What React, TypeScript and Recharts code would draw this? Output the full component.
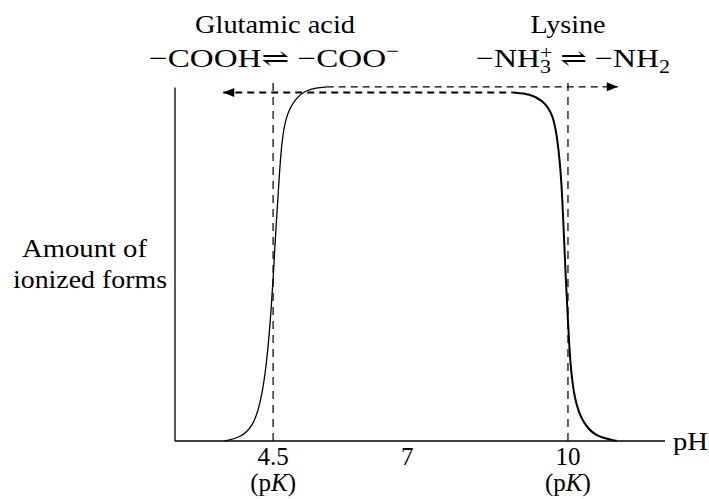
import React from 'react';
import { LineChart, Line, XAxis, YAxis, ReferenceLine, ReferenceDot } from 'recharts';

// pH axis
const xDomain = [2.67, 11.81];
const xTicks = [4.5, 7, 10];
const xTickNotes = ['(pK)', '', '(pK)'];
const pKValues = [4.5, 10];

// glutamic acid: -COOH -> -COO- (solid rise, then dashed plateau)
const gluPH = [3.6, 3.88, 4.13, 4.28, 4.38, 4.45, 4.5, 4.55, 4.61, 4.66, 4.75, 4.94, 5.12, 5.3, 5.5];
const gluAmount = [0, 0.9, 4.1, 11.7, 22.3, 34.7, 46.1, 60.5, 74.8, 86.2, 94.0, 98.7, 100.6, 101.3, 101.6];
const gluPlateauPH = [5.5, 10.93];
const gluPlateauAmount = [101.6, 101.6];

// lysine: -NH3+ -> -NH2 (dashed plateau, then solid fall)
const lysPlateauPH = [3.57, 8.97];
const lysPlateauAmount = [100, 100];
const lysPH = [8.97, 9.29, 9.53, 9.72, 9.81, 9.88, 9.92, 9.96, 10.0, 10.04, 10.12, 10.28, 10.53, 10.84, 10.91];
const lysAmount = [100, 99.6, 97.7, 93.9, 86.2, 74.8, 60.5, 46.1, 34.7, 22.3, 11.7, 5.0, 1.2, 0.3, 0];

const yAxisTop = 101.4;
const pKLineTop = 103.2;

const toRows = (xs: number[], ys: number[]) => xs.map((ph, i) => ({ ph, amount: ys[i] }));

const gluData = toRows(gluPH, gluAmount);
const gluPlateau = toRows(gluPlateauPH, gluPlateauAmount);
const lysPlateau = toRows(lysPlateauPH, lysPlateauAmount);
const lysData = toRows(lysPH, lysAmount);

const FONT = '"Liberation Serif", "DejaVu Serif", serif';

const PhTick = (props: any) => {
  const { x, y, payload } = props;
  const note = xTickNotes[xTicks.indexOf(payload.value)];
  return (
    <g style={{ fontFamily: FONT }} fill="#000">
      <text x={x} y={y + 24} textAnchor="middle" fontSize={25}>
        {payload.value}
      </text>
      {note ? (
        <text x={x} y={y + 50} textAnchor="middle" fontSize={25}>
          (p<tspan fontStyle="italic">K</tspan>)
        </text>
      ) : null}
    </g>
  );
};

const arrowHead = (dir: 'left' | 'right') => (props: any) => {
  const { cx, cy } = props;
  const s = dir === 'left' ? 1 : -1;
  return (
    <polygon
      points={`${cx},${cy} ${cx + s * 11},${cy - 4.5} ${cx + s * 11},${cy + 4.5}`}
      fill="#000"
    />
  );
};

const App = () => {
  return (
    <div style={{ position: 'absolute', left: 0, top: 0, width: 709, height: 499, background: '#fff' }}>
      <LineChart
        width={709}
        height={499}
        margin={{ top: 75, right: 44, left: 175, bottom: 0 }}
      >
        <XAxis
          type="number"
          dataKey="ph"
          domain={xDomain}
          ticks={xTicks}
          allowDataOverflow
          tickLine={false}
          tickSize={0}
          tickMargin={0}
          height={58}
          axisLine={{ stroke: '#000', strokeWidth: 1.3 }}
          tick={<PhTick />}
        />
        <YAxis type="number" dataKey="amount" domain={[0, 105]} hide />
        <ReferenceLine
          segment={[{ x: xDomain[0], y: 0 }, { x: xDomain[0], y: yAxisTop }]}
          stroke="#000"
          strokeWidth={1.3}
        />
        {pKValues.map((pk) => (
          <ReferenceLine
            key={pk}
            segment={[{ x: pk, y: 0 }, { x: pk, y: pKLineTop }]}
            stroke="#111"
            strokeWidth={1.3}
            strokeDasharray="8 6"
          />
        ))}
        <Line data={gluData} dataKey="amount" type="basis" stroke="#000" strokeWidth={1.3} dot={false} isAnimationActive={false} />
        <Line data={gluPlateau} dataKey="amount" type="linear" stroke="#000" strokeWidth={1.3} strokeDasharray="7 5" dot={false} isAnimationActive={false} />
        <Line data={lysPlateau} dataKey="amount" type="linear" stroke="#000" strokeWidth={2} strokeDasharray="7 5" dot={false} isAnimationActive={false} />
        <Line data={lysData} dataKey="amount" type="basis" stroke="#000" strokeWidth={2} dot={false} isAnimationActive={false} />
        <ReferenceDot x={lysPlateauPH[0]} y={lysPlateauAmount[0]} r={0} shape={arrowHead('left')} />
        <ReferenceDot x={gluPlateauPH[1]} y={gluPlateauAmount[1]} r={0} shape={arrowHead('right')} />
      </LineChart>
      <svg
        width={709}
        height={499}
        style={{ position: 'absolute', left: 0, top: 0, pointerEvents: 'none', fontFamily: FONT, fontSize: 26 }}
      >
        <text x={275} y={33} textAnchor="middle" textLength={160} lengthAdjust="spacingAndGlyphs">Glutamic acid</text>
        <text x={149} y={67} textLength={250} lengthAdjust="spacingAndGlyphs">
          −COOH⇌ −COO<tspan dy={-10} fontSize={18}>−</tspan>
        </text>
        <text x={568} y={33} textAnchor="middle" textLength={75} lengthAdjust="spacingAndGlyphs">Lysine</text>
        <text x={476} y={67} textLength={194} lengthAdjust="spacingAndGlyphs">
          −NH<tspan dy={6} fontSize={18}>3</tspan>
          <tspan dx={-9} dy={-14} fontSize={18}>+</tspan>
          <tspan dy={8}> ⇌ −NH</tspan>
          <tspan dy={6} fontSize={18}>2</tspan>
        </text>
        <text x={22} y={257} textLength={125} lengthAdjust="spacingAndGlyphs">Amount of</text>
        <text x={13} y={288} textLength={154} lengthAdjust="spacingAndGlyphs">ionized forms</text>
        <text x={673} y={450} textLength={35} lengthAdjust="spacingAndGlyphs">pH</text>
      </svg>
    </div>
  );
};

export default App;
